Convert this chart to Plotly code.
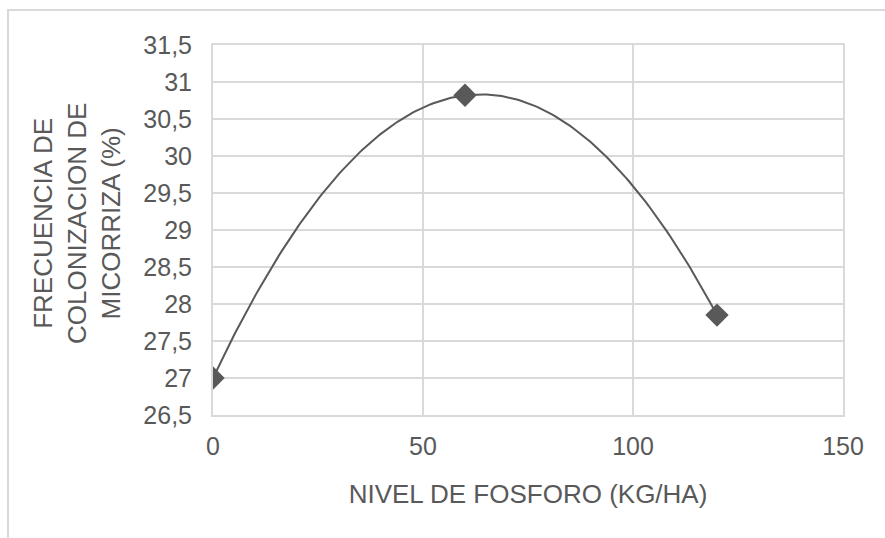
import numpy as np
import plotly.graph_objects as go

# Phosphorus level (kg/ha) and mycorrhizal colonisation frequency (%)
fosforo = [0, 60, 120]
frecuencia = [27.0, 30.82, 27.85]

x_ticks = [0, 50, 100, 150]
y_ticks = [26.5, 27, 27.5, 28, 28.5, 29, 29.5, 30, 30.5, 31, 31.5]

GRAY_TXT = "#595959"
GRID = "#d9d9d9"
FONT = "Liberation Sans, Arial, sans-serif"

# second-order polynomial trendline through the observations
coef = np.polyfit(fosforo, frecuencia, 2)
xs = np.linspace(min(fosforo), max(fosforo), 200)
ys = np.polyval(coef, xs)

W, H = 885, 538
L, R, T, B = 213, 42, 45, 123
pw, ph = W - L - R, H - T - B

fig = go.Figure()
fig.add_trace(go.Scatter(x=xs, y=ys, mode="lines",
                         line=dict(color=GRAY_TXT, width=2),
                         hoverinfo="skip", showlegend=False))
fig.add_trace(go.Scatter(x=fosforo, y=frecuencia, mode="markers",
                         marker=dict(symbol="diamond", size=18, color=GRAY_TXT),
                         showlegend=False))

fig.update_layout(
    width=W, height=H,
    margin=dict(l=L, r=R, t=T, b=B, pad=0),
    paper_bgcolor="white", plot_bgcolor="white",
    separators=", ",
    font=dict(family=FONT, size=25, color=GRAY_TXT),
    xaxis=dict(range=[0, 150], tickvals=x_ticks, showgrid=True, gridcolor=GRID,
               gridwidth=2, showline=True, linecolor=GRID, linewidth=2, mirror=True,
               zeroline=False, ticks="", ticklabelstandoff=8,
               title=dict(text="NIVEL DE FOSFORO (KG/HA)", standoff=26,
                          font=dict(size=26, color=GRAY_TXT))),
    yaxis=dict(range=[26.5, 31.5], tickvals=y_ticks, showgrid=True, gridcolor=GRID,
               gridwidth=2, showline=True, linecolor=GRID, linewidth=2, mirror=True,
               zeroline=False, ticks="", ticklabelstandoff=14),
)

# rotated three-line y-axis title
fig.add_annotation(
    text="FRECUENCIA DE<br>COLONIZACION DE<br>MICORRIZA (%)",
    textangle=-90, showarrow=False,
    xref="paper", yref="paper",
    x=(77 - L) / pw, y=(T + ph - 224) / ph,
    xanchor="center", yanchor="middle",
    font=dict(size=26, color=GRAY_TXT, family=FONT),
)

# outer chart border (only top and left edges fall inside the frame)
fig.add_shape(type="rect", xref="paper", yref="paper",
              x0=(8 - L) / pw, x1=(W + 10 - L) / pw,
              y0=-(H + 10 - T - ph) / ph, y1=1 + (T - 10) / ph,
              line=dict(color=GRID, width=2), fillcolor="rgba(0,0,0,0)", layer="below")

fig.write_html("out.html")
